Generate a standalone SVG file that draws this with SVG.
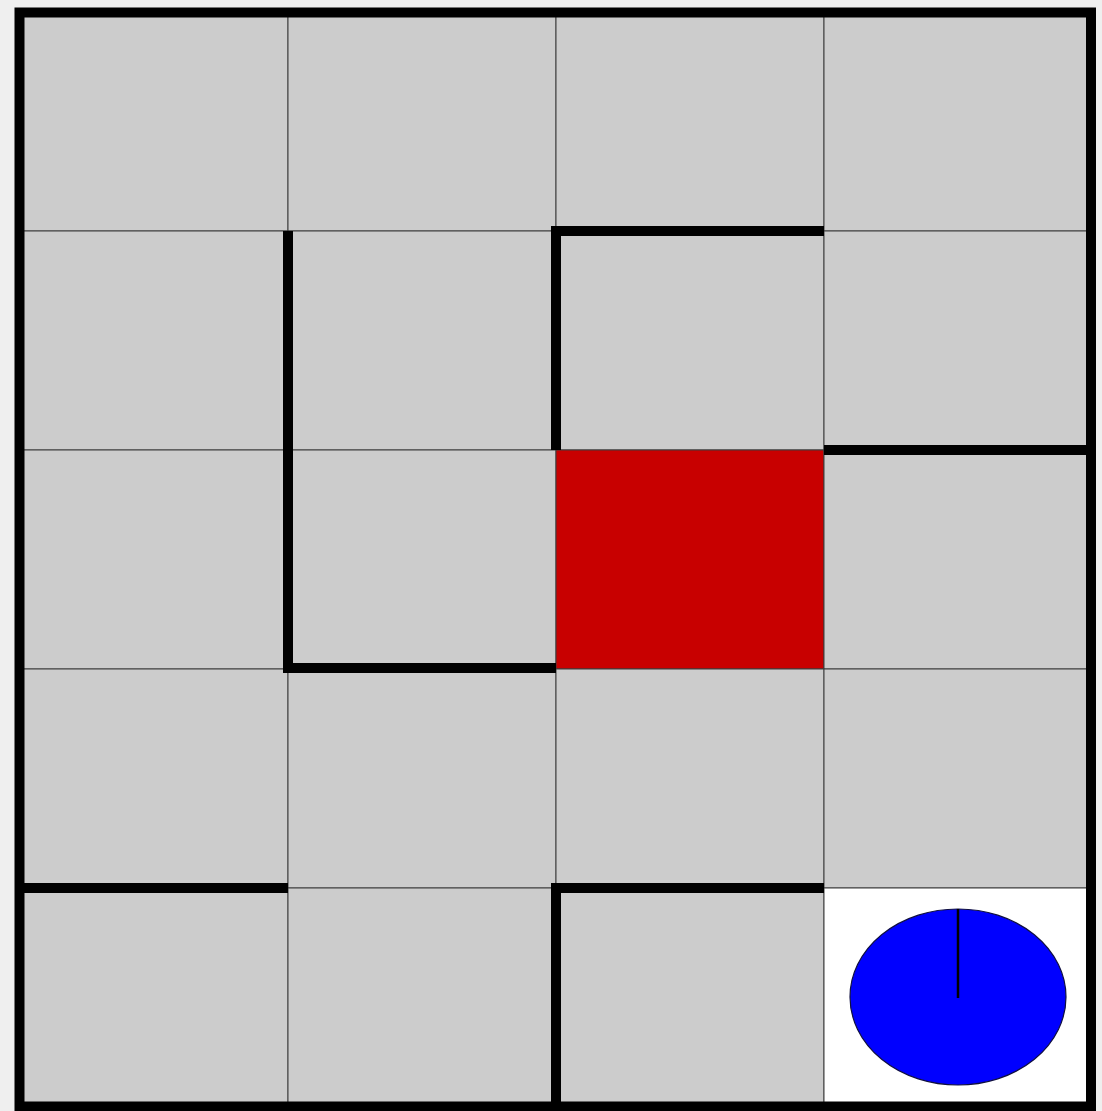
<svg xmlns="http://www.w3.org/2000/svg" width="1102" height="1111" viewBox="0 0 1102 1111">
<style>
.cell{fill:#cccccc;stroke:#3c3c3c;stroke-width:1}
.wall{fill:none;stroke:#000;stroke-width:10;stroke-linecap:square;stroke-linejoin:miter}
</style>
<rect x="0" y="0" width="1102" height="1111" fill="#efefef"/>
<g id="cells">
<rect class="cell" x="19" y="12" width="269" height="219"/>
<rect class="cell" x="288" y="12" width="268" height="219"/>
<rect class="cell" x="556" y="12" width="268" height="219"/>
<rect class="cell" x="824" y="12" width="267" height="219"/>
<rect class="cell" x="19" y="231" width="269" height="219"/>
<rect class="cell" x="288" y="231" width="268" height="219"/>
<rect class="cell" x="556" y="231" width="268" height="219"/>
<rect class="cell" x="824" y="231" width="267" height="219"/>
<rect class="cell" x="19" y="450" width="269" height="219"/>
<rect class="cell" x="288" y="450" width="268" height="219"/>
<rect class="cell" x="556" y="450" width="268" height="219" style="fill:#c80000"/>
<rect class="cell" x="824" y="450" width="267" height="219"/>
<rect class="cell" x="19" y="669" width="269" height="219"/>
<rect class="cell" x="288" y="669" width="268" height="219"/>
<rect class="cell" x="556" y="669" width="268" height="219"/>
<rect class="cell" x="824" y="669" width="267" height="219"/>
<rect class="cell" x="19" y="888" width="269" height="219"/>
<rect class="cell" x="288" y="888" width="268" height="219"/>
<rect class="cell" x="556" y="888" width="268" height="219"/>
<rect class="cell" x="824" y="888" width="267" height="219" style="fill:#ffffff"/>
</g>
<g id="walls">
<polyline class="wall" points="288,236 288,668 551,668"/>
<polyline class="wall" points="556,445 556,231 819,231"/>
<polyline class="wall" points="829,450 1087,450"/>
<polyline class="wall" points="23,888 283,888"/>
<polyline class="wall" points="556,1103 556,888 819,888"/>
</g>
<rect id="border" x="19.5" y="12.5" width="1071.5" height="1094" fill="none" stroke="#000" stroke-width="10"/>
<g id="robot">
<ellipse cx="958" cy="997" rx="108" ry="88" fill="#0000ff" stroke="#101040" stroke-width="1.2"/>
<line x1="958" y1="909" x2="958" y2="998" stroke="#000" stroke-width="2.5"/>
</g>
</svg>
